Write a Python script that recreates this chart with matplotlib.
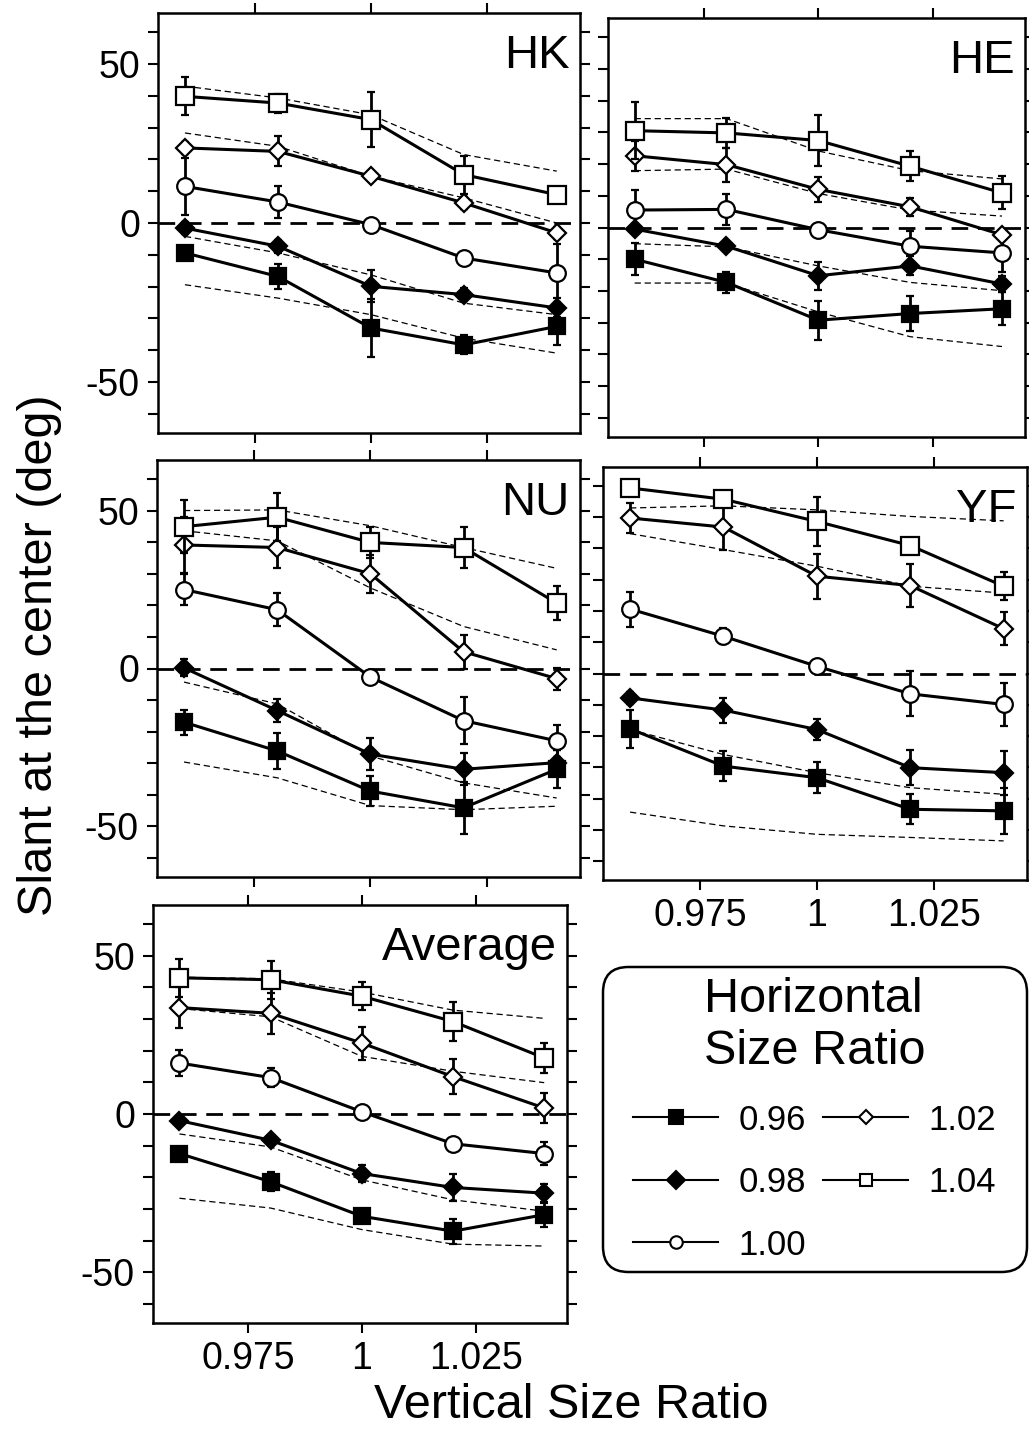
import numpy as np
import matplotlib
matplotlib.use('Agg')
import matplotlib.pyplot as plt
from matplotlib.ticker import FixedLocator, MultipleLocator
from matplotlib.lines import Line2D
from matplotlib.patches import FancyBboxPatch

plt.rcParams['font.family'] = ['Liberation Sans', 'DejaVu Sans']
plt.rcParams['axes.unicode_minus'] = False

# vertical size ratio (x) and horizontal size ratio (series)
vsr = [0.96, 0.98, 1.00, 1.02, 1.04]
hsr = ['0.96', '0.98', '1.00', '1.02', '1.04']

# each list: one row per horizontal size ratio, in hsr order
hk_mean = [[-9.4, -16.8, -33.0, -38.3, -32.5],
           [-1.6, -7.3, -19.9, -22.5, -26.7],
           [11.5, 6.6, -0.5, -11.0, -15.7],
           [23.6, 22.5, 14.7, 6.3, -3.1],
           [39.8, 37.7, 32.5, 15.2, 8.9]]
hk_err = [[2, 4, 9, 3, 6],
          [2, 2, 5, 2, 3],
          [9, 5, 1, 1, 9],
          [2, 4.7, 1.5, 2, 2],
          [6, 3, 8.6, 6, 1.5]]
hk_pred = [[-19.4, -23.6, -28.8, -36.2, -40.9],
           [-4.2, -9.4, -16.3, -25.2, -28.8],
           None,
           [28.3, 24.1, 14.7, 7.9, 0.0],
           [43.0, 39.3, 34.0, 21.5, 16.3]]

he_mean = [[-10.0, -17.3, -29.2, -27.1, -25.6],
           [-0.5, -5.9, -15.2, -12.1, -17.8],
           [5.5, 5.7, -0.7, -5.9, -8.0],
           [22.6, 19.8, 12.0, 6.5, -2.3],
           [30.5, 29.8, 27.4, 19.3, 10.9]]
he_err = [[5, 3.4, 6.2, 5.4, 5.2],
          [1.5, 1.5, 4.4, 3, 2.6],
          [6.2, 5, 1, 4.7, 6],
          [4.7, 5.4, 3.9, 2.8, 1.5],
          [9, 4.7, 8, 4.7, 5.2]]
he_pred = [[-17.5, -17.5, -26.6, -34.4, -37.5],
           [-5.1, -6.1, -12.1, -17.3, -19.9],
           None,
           [17.9, 18.4, 10.7, 5.5, 3.6],
           [34.3, 34.3, 24.1, 17.9, 15.3]]

nu_mean = [[-17.0, -26.1, -38.8, -44.1, -31.9],
           [0.2, -13.3, -27.1, -31.9, -29.8],
           [25.0, 18.6, -2.7, -16.5, -22.9],
           [39.1, 38.3, 30.0, 5.3, -3.2],
           [44.9, 47.9, 39.9, 38.3, 20.7]]
nu_err = [[4, 5.6, 4.8, 8.2, 6],
          [2.7, 3.7, 5, 5, 4],
          [4.8, 5.3, 1, 7.4, 5],
          [9, 6.6, 6, 5.3, 3.5],
          [8.3, 7.5, 4.9, 6.6, 5.3]]
nu_pred = [[-29.6, -34.6, -43.4, -44.7, -43.6],
           [-4.3, -11.2, -27.7, -36.2, -41.0],
           None,
           [43.6, 40.4, 25.5, 13.3, 5.9],
           [50.0, 50.2, 45.2, 38.3, 31.7]]

yf_mean = [[-17.7, -29.6, -33.3, -43.4, -43.9],
           [-7.8, -11.7, -17.9, -30.1, -31.7],
           [20.6, 11.9, 2.3, -6.5, -9.9],
           [49.7, 46.8, 31.1, 28.1, 14.3],
           [59.3, 55.7, 48.6, 40.9, 27.9]]
yf_err = [[6.1, 4.8, 5, 4.8, 7.4],
          [2, 4, 3.2, 5.6, 7],
          [5.6, 2.5, 1, 7.2, 7],
          [4.9, 7.4, 7.2, 7, 5.3],
          [1.5, 1.5, 7.7, 1.5, 4.5]]
yf_pred = [[-44.3, -48.7, -51.4, -52.4, -53.5],
           [-17.9, -25.9, -31.7, -36.5, -38.6],
           None,
           [44.7, 39.6, 34.3, 27.9, 25.7],
           [52.9, 53.6, 52.3, 50.2, 48.8]]

avg_mean = [[-12.5, -21.4, -32.3, -37.0, -31.8],
            [-2.1, -8.3, -18.8, -23.2, -25.0],
            [16.1, 11.5, 0.7, -9.4, -12.5],
            [33.6, 31.8, 22.4, 11.8, 1.9],
            [43.0, 42.4, 37.2, 29.2, 17.7]]
avg_err = [[1.5, 3, 1.5, 4, 4],
           [1.5, 1.5, 2.6, 4.4, 3],
           [4.2, 3, 1, 1, 3.6],
           [6.5, 6.5, 5.2, 5.5, 4.7],
           [6, 6, 4.4, 6.2, 4.6]]
avg_pred = [[-26.6, -29.7, -36.5, -41.1, -41.7],
            [-6.3, -10.4, -20.8, -27.1, -30.7],
            None,
            [33.3, 30.7, 18.2, 13.5, 9.9],
            [43.2, 42.7, 38.5, 32.8, 30.2]]

markers = ['s', 'D', 'o', 'D', 's']
fills = ['black', 'black', 'white', 'white', 'white']
msizes = [12, 9, 12, 9, 13]

W, H = 1029, 1432
fig = plt.figure(figsize=(W / 100, H / 100), dpi=100)


def box(l, t, r, b):
    return [l / W, 1 - b / H, (r - l) / W, (b - t) / H]


panels = [
    ('HK', hk_mean, hk_err, hk_pred, box(158, 13, 580, 433), True, False),
    ('HE', he_mean, he_err, he_pred, box(608, 18, 1025, 437), False, False),
    ('NU', nu_mean, nu_err, nu_pred, box(157, 460, 580, 877), True, False),
    ('YF', yf_mean, yf_err, yf_pred, box(603, 467, 1027, 880), False, True),
    ('Average', avg_mean, avg_err, avg_pred, box(153, 905, 567, 1323), True, True),
]

for name, mean, err, pred, rect, left_lab, bottom_lab in panels:
    ax = fig.add_axes(rect)
    ax.axhline(0, color='black', lw=2, ls=(0, (6, 3.5)), zorder=1)
    for p in pred:
        if p is not None:
            ax.plot(vsr, p, color='black', lw=0.9, ls=(0, (5, 3)), zorder=2)
    for i in range(len(hsr)):
        ax.errorbar(vsr, mean[i], yerr=err[i], color='black', lw=2.2,
                    marker=markers[i], ms=msizes[i], mfc=fills[i], mec='black',
                    mew=1.6, elinewidth=2, capsize=3, capthick=2, zorder=3 + i)
    ax.set_xlim(0.9542, 1.045)
    ax.set_ylim(-66, 66)
    ax.set_xticks([0.975, 1, 1.025])
    ax.set_xticklabels(['0.975', '1', '1.025'] if bottom_lab else [])
    ax.yaxis.set_major_locator(FixedLocator([-50, 0, 50]))
    ax.yaxis.set_minor_locator(MultipleLocator(10))
    if not left_lab:
        ax.set_yticklabels([])
    ax.tick_params(which='both', direction='out', top=True, right=True,
                   length=7, width=1.5, labelsize=27, pad=6)
    for s in ax.spines.values():
        s.set_linewidth(1.8)
    ax.text(0.975, 0.95, name, transform=ax.transAxes, ha='right', va='top',
            fontsize=34)

fig.text(40 / W, 1 - 655 / H, 'Slant at the center (deg)', rotation=90,
         ha='center', va='center', fontsize=35)
fig.text(571 / W, 1 - 1405 / H, 'Vertical Size Ratio', ha='center',
         va='center', fontsize=35)

# legend: rounded box drawn in its own axes, entries from a legend without frame
lax = fig.add_axes(box(603, 967, 1027, 1272))
lax.axis('off')
lax.add_patch(FancyBboxPatch((0, 0), 1, 1, boxstyle='round,pad=0,rounding_size=0.06',
                             mutation_aspect=424 / 305, transform=lax.transAxes,
                             fc='white', ec='black', lw=1.8, clip_on=False))
handles = [Line2D([], [], color='black', lw=1.5, marker=markers[i],
                  ms=[10, 9, 9, 7, 9][i], mfc=fills[i], mec='black', mew=1.5)
           for i in range(len(hsr))]
lax.legend(handles, hsr, ncol=2, loc='upper left',
           bbox_to_anchor=(30 / 424, 1 - 10 / 305),
           title='Horizontal\nSize Ratio', title_fontsize=35, fontsize=25,
           handlelength=2.45, handletextpad=0.58, columnspacing=0.5,
           labelspacing=0.85, borderpad=0, borderaxespad=0, frameon=False)

fig.savefig('out.png', dpi=100)
